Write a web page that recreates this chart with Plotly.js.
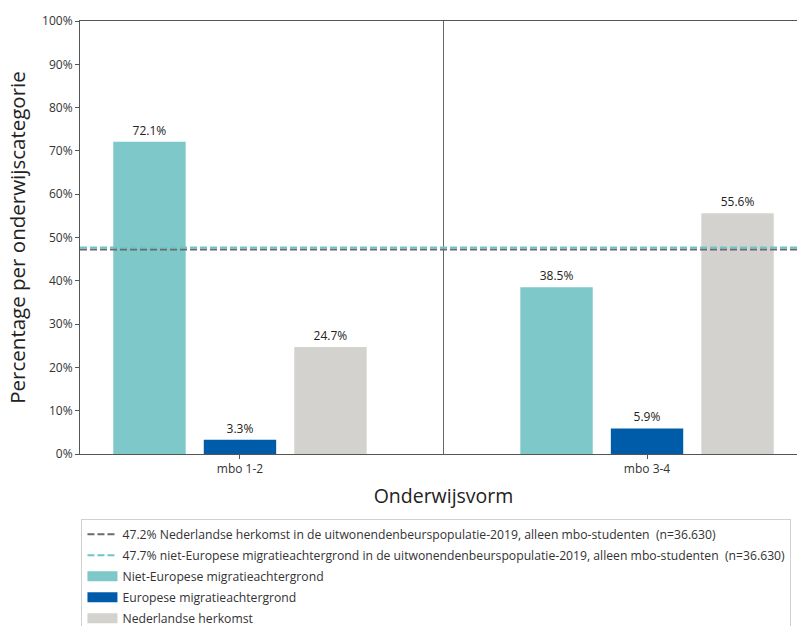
<!DOCTYPE html>
<html>
<head>
<meta charset="utf-8">
<script src="https://cdn.plot.ly/plotly-3.0.1.min.js"></script>
<style>
html,body{margin:0;padding:0;overflow:hidden;background:#fff;}
#chart{width:820px;height:626px;}
</style>
</head>
<body>
<div id="chart"></div>
<script>
// Data
const categories = ["mbo 1-2", "mbo 3-4"];
const seriesNames = ["Niet-Europese migratieachtergrond", "Europese migratieachtergrond", "Nederlandse herkomst"];
const nietEuropees = [72.1, 38.5];
const europees = [3.3, 5.9];
const nederlands = [24.7, 55.6];
const refNames = [
  "47.2% Nederlandse herkomst in de uitwonendenbeurspopulatie-2019, alleen mbo-studenten  (n=36.630)",
  "47.7% niet-Europese migratieachtergrond in de uitwonendenbeurspopulatie-2019, alleen mbo-studenten  (n=36.630)"
];
const refValues = [47.2, 47.7];
const yTickVals = [0,10,20,30,40,50,60,70,80,90,100];
const yTickText = yTickVals.map(v=>v+"%");

const XRANGE = [-0.393, 1.393];
const xIdx = categories.map((c,i)=>i);
const FONT = "'Open Sans', Lato, sans-serif";

const refColors = ["#6b6b6b", "#6cc6c9"];
const barColors = ["#7ec8ca", "#005ca9", "#d3d2ce"];
const barData = [nietEuropees, europees, nederlands];

const bars = barData.map((vals,i)=>({
  type:"bar",
  x: xIdx, y: vals,
  name: seriesNames[i],
  marker:{color:barColors[i]},
  text: vals.map(v=>v.toFixed(1)+"%"),
  textposition:"outside",
  textfont:{size:12, color:"#222", family:FONT},
  cliponaxis:false,
  showlegend:false
}));
const refLines = refValues.map((v,i)=>({
  type:"scatter", mode:"lines",
  x: XRANGE, y:[v,v],
  name: refNames[i],
  line:{color:refColors[i], width:2, dash:"7px,3px"},
  legendrank: i+1,
  legendgroup: "r"+i,
  hoverinfo:"skip"
}));
// legend swatches for the bars (wide rectangles)
const barLegend = seriesNames.map((n,i)=>({
  type:"scatter", mode:"lines",
  x:[null], y:[null],
  name:n,
  line:{color:barColors[i], width:11},
  legendrank: i+3,
  legendgroup: "b"+i,
  hoverinfo:"skip"
}));

const layout = {
  width:820, height:626,
  margin:{l:80, r:13, t:21, b:172, autoexpand:false},
  paper_bgcolor:"#fff", plot_bgcolor:"#fff",
  font:{family:FONT, color:"#333", size:12},
  barmode:"group",
  bargap:0.333,
  bargroupgap:0.2,
  showlegend:true,
  legend:{
    x:0.002, xanchor:"left", y:-0.1495, yanchor:"top",
    orientation:"v",
    bordercolor:"#d0d0d0", borderwidth:1,
    font:{size:12.2, color:"#333", family:FONT},
    tracegroupgap:2,
    itemwidth:30
  },
  xaxis:{
    range:XRANGE,
    tickvals:xIdx, ticktext:categories,
    ticks:"outside", ticklen:4, tickcolor:"#555",
    showline:true, linecolor:"#555", linewidth:1, mirror:true,
    showgrid:false, zeroline:false,
    tickfont:{size:12, color:"#333"},
    title:{text:"Onderwijsvorm", font:{size:19.5, color:"#222"}, standoff:12}
  },
  yaxis:{
    range:[0,100],
    tickvals:yTickVals, ticktext:yTickText,
    ticks:"outside", ticklen:4, tickcolor:"#555",
    showline:true, linecolor:"#555", linewidth:1, mirror:true,
    showgrid:false, zeroline:false,
    tickfont:{size:12, color:"#333"},
    title:{text:"Percentage per onderwijscategorie", font:{size:20.5, color:"#222"}, standoff:10}
  },
  shapes:[{
    type:"line", xref:"x", yref:"paper",
    x0:0.5, x1:0.5, y0:0, y1:1,
    line:{color:"#666", width:1},
    layer:"below"
  }]
};

Plotly.newPlot("chart", bars.concat(refLines, barLegend), layout, {displayModeBar:false, staticPlot:true});
</script>
</body>
</html>
